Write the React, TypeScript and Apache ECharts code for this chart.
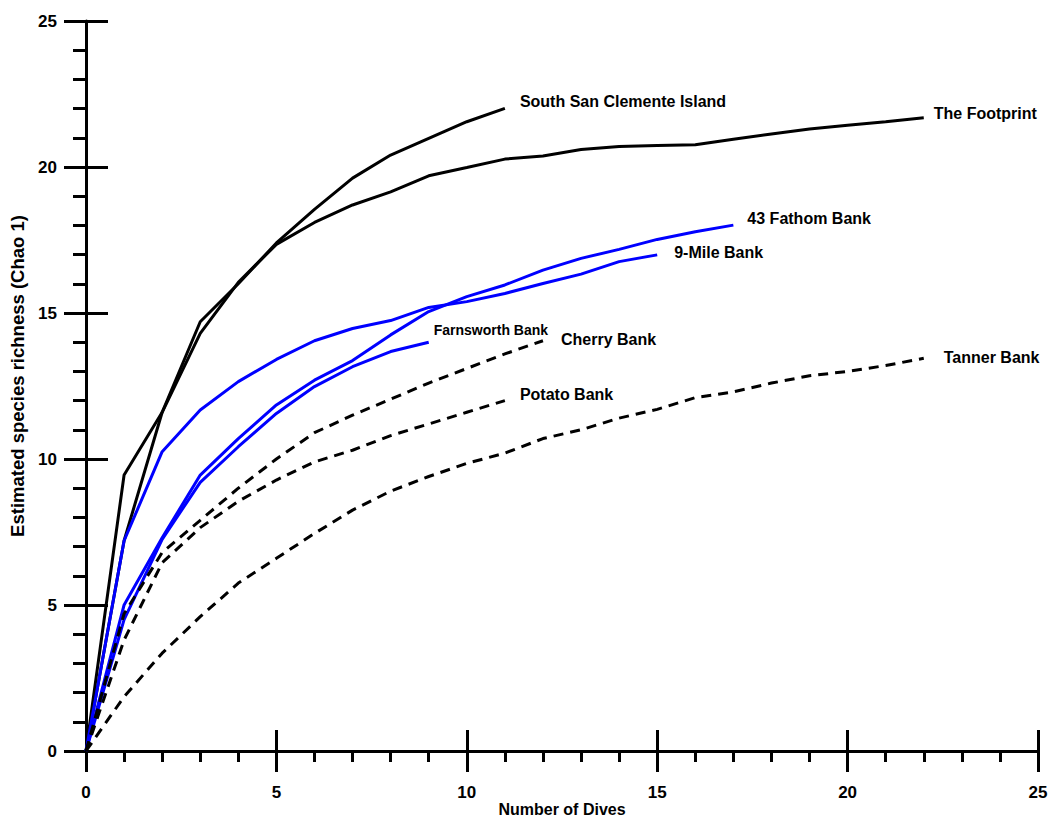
import React, { useEffect, useRef } from "react";
import * as echarts from "echarts";

const dives = [0, 1, 2, 3, 4, 5, 6, 7, 8, 9, 10, 11, 12, 13, 14, 15, 16, 17, 18, 19, 20, 21, 22];

const southSanClemente = [0, 7.2, 11.6, 14.7, 16.0, 17.4, 18.55, 19.62, 20.41, 20.98, 21.55, 22.01];
const theFootprint = [0, 9.45, 11.6, 14.3, 16.05, 17.35, 18.1, 18.7, 19.15, 19.7, 19.98, 20.27, 20.38, 20.6, 20.7, 20.74, 20.76, 20.95, 21.13, 21.3, 21.43, 21.55, 21.69];
const fathom43 = [0, 5.0, 7.3, 9.45, 10.7, 11.85, 12.7, 13.37, 14.25, 15.05, 15.56, 15.96, 16.47, 16.87, 17.18, 17.52, 17.78, 18.01];
const nineMile = [0, 7.2, 10.25, 11.68, 12.65, 13.41, 14.05, 14.47, 14.74, 15.19, 15.39, 15.67, 16.01, 16.33, 16.76, 16.99];
const farnsworth = [0, 4.5, 7.25, 9.2, 10.42, 11.56, 12.48, 13.16, 13.68, 14.0];
const cherryBank = [0, 4.7, 6.8, 7.9, 9.0, 10.0, 10.9, 11.5, 12.05, 12.6, 13.1, 13.6, 14.05];
const potatoBank = [0, 3.8, 6.45, 7.65, 8.55, 9.28, 9.9, 10.3, 10.8, 11.2, 11.6, 12.0];
const tannerBank = [0, 1.86, 3.35, 4.6, 5.75, 6.6, 7.45, 8.25, 8.9, 9.4, 9.85, 10.2, 10.7, 11.0, 11.4, 11.7, 12.1, 12.3, 12.6, 12.85, 13.0, 13.2, 13.45];

const xTicks = [0, 5, 10, 15, 20, 25];
const yTicks = [0, 5, 10, 15, 20, 25];

const FONT = "'Liberation Sans', Arial, Helvetica, sans-serif";

type S = {
  name: string;
  values: number[];
  color: string;
  dashed: boolean;
  offset: [number, number];
  size: number;
};

const seriesDefs: S[] = [
  { name: "South San Clemente Island", values: southSanClemente, color: "#000000", dashed: false, offset: [15, -7], size: 16 },
  { name: "The Footprint", values: theFootprint, color: "#000000", dashed: false, offset: [10, -4], size: 16 },
  { name: "43 Fathom Bank", values: fathom43, color: "#0000FF", dashed: false, offset: [14, -7], size: 16 },
  { name: "9-Mile Bank", values: nineMile, color: "#0000FF", dashed: false, offset: [17, -2], size: 16 },
  { name: "Farnsworth Bank", values: farnsworth, color: "#0000FF", dashed: false, offset: [5, -12], size: 14 },
  { name: "Cherry Bank", values: cherryBank, color: "#000000", dashed: true, offset: [18, -1], size: 16 },
  { name: "Potato Bank", values: potatoBank, color: "#000000", dashed: true, offset: [15, -6], size: 16 },
  { name: "Tanner Bank", values: tannerBank, color: "#000000", dashed: true, offset: [20, -1], size: 16 },
];

export default function App() {
  const ref = useRef<HTMLDivElement>(null);
  useEffect(() => {
    if (!ref.current) return;
    const chart = echarts.init(ref.current, undefined, { renderer: "svg" });
    const axisCommon = {
      type: "value" as const,
      min: 0,
      max: 25,
      interval: 5,
      splitLine: { show: false },
      minorSplitLine: { show: false },
    };
    chart.setOption({
      animation: false,
      backgroundColor: "#ffffff",
      grid: {
        left: 86,
        right: 19,
        top: 21,
        bottom: 69,
        containLabel: false,
        outerBoundsMode: "none",
      },
      xAxis: [
        {
          ...axisCommon,
          position: "bottom",
          name: "Number of Dives",
          nameLocation: "middle",
          nameGap: 50,
          nameMoveOverlap: false,
          nameTextStyle: { fontFamily: FONT, fontWeight: "bold", fontSize: 16, lineHeight: 16, color: "#000" },
          axisLine: { show: true, onZero: false, lineStyle: { color: "#000", width: 3 } },
          axisTick: { show: true, inside: false, length: 21, lineStyle: { color: "#000", width: 3 } },
          minorTick: { show: true, splitNumber: 5, length: 11, lineStyle: { color: "#000", width: 3 } },
          axisLabel: {
            margin: 33,
            fontFamily: FONT,
            fontWeight: "bold",
            fontSize: 17,
            color: "#000",
            formatter: (v: number) => (xTicks.includes(v) ? String(v) : ""),
          },
        },
        {
          ...axisCommon,
          position: "bottom",
          axisLine: { show: false, onZero: false },
          axisTick: { show: true, inside: true, length: 21, lineStyle: { color: "#000", width: 3 } },
          minorTick: { show: false },
          axisLabel: { show: false },
        },
      ],
      yAxis: [
        {
          ...axisCommon,
          position: "left",
          name: "Estimated species richness (Chao 1)",
          nameLocation: "middle",
          nameGap: 58,
          nameTextStyle: {
            fontFamily: FONT,
            fontWeight: "bold",
            fontSize: 18.5,
            color: "#000",
            padding: [0, 0, 0, 20],
          },
          axisLine: { show: true, onZero: false, lineStyle: { color: "#000", width: 3 } },
          axisTick: { show: true, inside: false, length: 22, lineStyle: { color: "#000", width: 3 } },
          minorTick: { show: true, splitNumber: 5, length: 13, lineStyle: { color: "#000", width: 3 } },
          axisLabel: {
            margin: 29,
            fontFamily: FONT,
            fontWeight: "bold",
            fontSize: 17,
            color: "#000",
            formatter: (v: number) => (yTicks.includes(v) ? String(v) : ""),
          },
        },
        {
          ...axisCommon,
          position: "left",
          axisLine: { show: false, onZero: false },
          axisTick: { show: true, inside: true, length: 22, lineStyle: { color: "#000", width: 3 } },
          minorTick: { show: false },
          axisLabel: { show: false },
        },
      ],
      series: seriesDefs.map((s) => ({
        name: s.name,
        type: "line",
        xAxisIndex: 0,
        yAxisIndex: 0,
        data: s.values.map((v, i) => [dives[i], v]),
        showSymbol: false,
        symbol: "none",
        lineStyle: { color: s.color, width: 3, type: s.dashed ? [10, 7] : "solid" },
        itemStyle: { color: s.color },
        emphasis: { disabled: true },
        endLabel: {
          show: true,
          formatter: s.name,
          distance: 0,
          offset: s.offset,
          align: "left",
          verticalAlign: "middle",
          fontFamily: FONT,
          fontWeight: "bold",
          fontSize: s.size,
          color: "#000",
        },
      })),
    });
    return () => chart.dispose();
  }, []);
  return (
    <div
      ref={ref}
      style={{ position: "fixed", left: 0, top: 0, width: 1057, height: 820, background: "#fff" }}
    />
  );
}
